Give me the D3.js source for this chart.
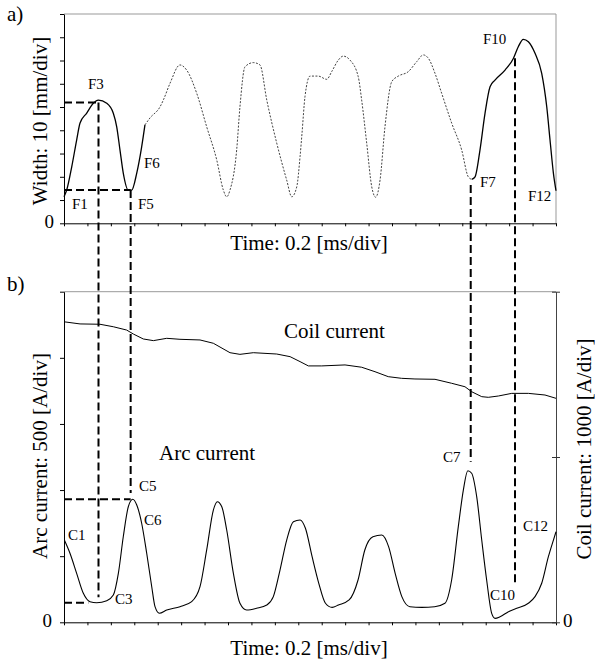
<!DOCTYPE html>
<html>
<head>
<meta charset="utf-8">
<script src="https://cdn.jsdelivr.net/npm/d3@7"></script>
<style>
  body { margin: 0; background: #fff; }
  text { font-family: "Liberation Serif", "Times New Roman", serif; fill: #000; }
</style>
</head>
<body>
<div class="canvas"></div>
<script>
// width trace (panel a), time in ms, width in mm
const widthTime = [0, 0.023, 0.066, 0.108, 0.137, 0.194, 0.250, 0.293, 0.365, 0.421, 0.450, 0.478, 0.506, 0.549, 0.578, 0.621, 0.663, 0.691,
  0.734, 0.820, 0.848, 0.905, 0.990, 1.047, 1.133, 1.218, 1.304, 1.360, 1.389, 1.417, 1.474, 1.502, 1.545, 1.616, 1.673, 1.731, 1.816, 1.901, 1.944, 1.987, 2.015, 2.032,
  2.057, 2.100, 2.171, 2.243, 2.285, 2.342, 2.384, 2.441, 2.512, 2.541, 2.584, 2.627, 2.661, 2.698, 2.740, 2.798, 2.854, 2.939, 3.011, 3.067, 3.110, 3.167, 3.224, 3.310, 3.395, 3.451, 3.480,
  3.509, 3.551, 3.594, 3.637, 3.679, 3.765, 3.836, 3.878, 3.921, 3.964, 4.021, 4.078, 4.121, 4.149, 4.178, 4.2]
const widthValue = [11.4, 14.3, 24.3, 35.8, 43.1, 47.4, 51.6, 53.0, 51.6, 47.3, 41.5, 31.5, 21.6, 14.3, 14.3, 21.6, 32.9, 42.3,
  45.3, 50.1, 53.0, 60.2, 68.1, 65.9, 55.9, 41.5, 27.2, 14.3, 11.4, 14.3, 31.5, 50.1, 67.3, 69.1, 68.1, 53.0, 34.5, 18.6, 11.4, 15.7, 28.6, 38.8,
  54.4, 63.3, 63.3, 61.9, 65.2, 70.2, 71.9, 70.2, 63.0, 53.0, 34.5, 15.7, 11.2, 18.6, 41.5, 60.9, 63.3, 65.2, 69.5, 72.4, 71.0, 64.5, 55.9, 43.0, 31.5, 20.0, 18.9,
  20.0, 31.5, 47.3, 58.7, 61.6, 65.9, 70.9, 75.9, 79.1, 78.1, 73.1, 64.5, 50.1, 35.8, 21.5, 14.0]
const solidEnd = 0.691
const solidStart = 3.480

// arc current (panel b), A
const arcTime = [0.003, 0.051, 0.108, 0.165, 0.222, 0.279, 0.365, 0.421, 0.464, 0.506, 0.549, 0.587, 0.621, 0.663, 0.706, 0.749, 0.777, 0.814,
  0.877, 0.990, 1.090, 1.161, 1.218, 1.275, 1.309, 1.347, 1.389, 1.446, 1.502, 1.559, 1.644, 1.731, 1.787, 1.844, 1.901, 1.958, 2.015,
  2.061, 2.118, 2.175, 2.232, 2.289, 2.343, 2.434, 2.510, 2.568, 2.637, 2.713, 2.771, 2.827, 2.884, 2.953, 3.053, 3.164, 3.252, 3.309, 3.366, 3.409, 3.447, 3.480,
  3.523, 3.566, 3.608, 3.651, 3.680, 3.722, 3.794, 3.865, 3.964, 4.021, 4.078, 4.135, 4.178, 4.2]
const arcValue = [622, 522, 370, 219, 156, 148, 163, 206, 370, 647, 874, 930, 887, 749, 522, 269, 118, 68,
  93, 118, 156, 269, 547, 849, 912, 874, 698, 370, 144, 93, 106, 131, 194, 395, 622, 761, 774,
  711, 496, 295, 144, 113, 131, 169, 320, 547, 647, 660, 572, 370, 194, 118, 113, 118, 144, 320, 723, 1000, 1146, 1127,
  950, 622, 320, 68, 30, 42, 80, 106, 144, 194, 295, 496, 622, 685]

// coil current (panel b), A
const coilTime = [0, 0.137, 0.307, 0.421, 0.535, 0.592, 0.677, 0.763, 0.877, 0.990, 1.161, 1.275, 1.417, 1.502, 1.616, 1.816, 1.930, 2.015,
  2.086, 2.200, 2.399, 2.541, 2.655, 2.768, 2.882, 2.996, 3.167, 3.309, 3.423, 3.480, 3.566, 3.622, 3.708, 3.822, 3.964, 4.106, 4.2]
const coilValue = [1818, 1805, 1803, 1788, 1768, 1744, 1714, 1704, 1718, 1712, 1708, 1688, 1631, 1621, 1631, 1623, 1607, 1577,
  1551, 1551, 1557, 1543, 1516, 1486, 1476, 1472, 1470, 1446, 1425, 1395, 1365, 1361, 1369, 1385, 1385, 1375, 1355]

// dashed guide lines linking the two panels
const guideTime = [0.2945, 0.569, 3.472, 3.850]
const guideTopWidth = [51.9, 14.3, 16.5, 71.0]
const guideBottomArc = [190, 978, 1214, 297]
const topLevelWidth = [51.9, 14.3]
const topLevelEnd = [0.2945, 0.569]
const bottomLevelArc = [930, 148]
const bottomLevelEnd = [0.569, 0.207]

// point labels
const widthLabels = ['F1', 'F3', 'F5', 'F6', 'F7', 'F10', 'F12']
const widthLabelTime = [0.068, 0.205, 0.632, 0.683, 3.551, 3.577, 3.961]
const widthLabelValue = [6.1, 57.7, 6.1, 23.8, 15.6, 77.1, 9.6]
const arcLabels = ['C1', 'C3', 'C5', 'C6', 'C7', 'C10', 'C12']
const arcLabelTime = [0.034, 0.435, 0.640, 0.683, 3.235, 3.637, 3.918]
const arcLabelValue = [622, 138, 993, 736, 1212, 169, 690]

const timeTicks = d3.range(0, 22).map(i => +(i * 0.2).toFixed(1))
const widthTicks = d3.range(0, 91, 10)
const arcTicks = d3.range(0, 2501, 500)
const coilTicks = [0, 1000, 2000]

const W = 595, H = 663
const svg = d3.select('.canvas').append('svg').attr('width', W).attr('height', H)

const x = d3.scaleLinear().domain([0, 4.2]).range([64, 556])
const yTop = d3.scaleLinear().domain([0, 90]).range([223.3, 14])
const yArc = d3.scaleLinear().domain([0, 2500]).range([622.3, 291.7])
const yCoil = d3.scaleLinear().domain([0, 2000]).range([622.3, 291.7])

// frames
svg.append('line').attr('x1', x(0)).attr('x2', x(4.2)).attr('y1', yTop(90)).attr('y2', yTop(90)).attr('stroke', '#999')
svg.append('line').attr('x1', x(4.2)).attr('x2', x(4.2)).attr('y1', yTop(90)).attr('y2', yTop(0)).attr('stroke', '#999')
svg.append('line').attr('x1', x(0)).attr('x2', x(4.2)).attr('y1', yArc(2500)).attr('y2', yArc(2500)).attr('stroke', '#999')

const fmt0 = d => d === 0 ? '0' : ''

const styleAxis = g => {
  g.select('.domain').attr('stroke', '#000')
  g.selectAll('.tick line').attr('stroke', '#000')
  g.selectAll('.tick text').style('font-size', '19px').attr('font-family', null)
}

svg.append('g').attr('transform', `translate(${x(0)},0)`)
  .call(d3.axisLeft(yTop).tickValues(widthTicks).tickSize(4).tickSizeOuter(0).tickFormat(fmt0).tickPadding(6))
  .call(styleAxis)
  .selectAll('.tick text').attr('dy', '0.22em')

svg.append('g').attr('transform', `translate(0,${yTop(0)})`)
  .call(d3.axisBottom(x).tickValues(timeTicks).tickSize(3).tickSizeOuter(0).tickFormat(''))
  .call(styleAxis)

svg.append('g').attr('transform', `translate(${x(0)},0)`)
  .call(d3.axisLeft(yArc).tickValues(arcTicks).tickSize(4).tickSizeOuter(0).tickFormat(fmt0).tickPadding(8))
  .call(styleAxis)
  .selectAll('.tick text').attr('dy', '0.2em')

svg.append('g').attr('transform', `translate(0,${yArc(0)})`)
  .call(d3.axisBottom(x).tickValues(timeTicks).tickSize(3).tickSizeOuter(0).tickFormat(''))
  .call(styleAxis)

const rightAxis = svg.append('g').attr('transform', `translate(${x(4.2)},0)`)
  .call(d3.axisRight(yCoil).tickValues(coilTicks).tickSize(4).tickSizeOuter(0).tickFormat(fmt0).tickPadding(3))
  .call(styleAxis)
rightAxis.select('.domain').attr('stroke', '#444')
rightAxis.selectAll('.tick line').attr('x1', -4).attr('stroke', '#333')
rightAxis.selectAll('.tick text').attr('dy', '0.2em')

// traces
const topLine = d3.line().x(d => x(d.t)).y(d => yTop(d.v)).curve(d3.curveMonotoneX)
const widthPts = widthTime.map((t, i) => ({ t, v: widthValue[i] }))

svg.append('path').datum(widthPts.filter(d => d.t <= solidEnd))
  .attr('d', topLine).attr('fill', 'none').attr('stroke', '#000').attr('stroke-width', 1.3)
svg.append('path').datum(widthPts.filter(d => d.t >= solidEnd && d.t <= solidStart))
  .attr('d', topLine).attr('fill', 'none').attr('stroke', '#444').attr('stroke-width', 1)
  .attr('stroke-dasharray', '2,1.5')
svg.append('path').datum(widthPts.filter(d => d.t >= solidStart))
  .attr('d', topLine).attr('fill', 'none').attr('stroke', '#000').attr('stroke-width', 1.3)

const arcLine = d3.line().x((d, i) => x(arcTime[i])).y(d => yArc(d)).curve(d3.curveMonotoneX)
svg.append('path').datum(arcValue).attr('d', arcLine)
  .attr('fill', 'none').attr('stroke', '#000').attr('stroke-width', 1.1)

const coilLine = d3.line().x((d, i) => x(coilTime[i])).y(d => yCoil(d))
svg.append('path').datum(coilValue).attr('d', coilLine)
  .attr('fill', 'none').attr('stroke', '#000').attr('stroke-width', 1)

// dashed guides
const guides = svg.append('g').attr('stroke', '#000').attr('stroke-width', 2).attr('stroke-dasharray', '8,4')
guideTime.forEach((t, i) => {
  guides.append('line').attr('x1', x(t)).attr('x2', x(t))
    .attr('y1', yTop(guideTopWidth[i])).attr('y2', yArc(guideBottomArc[i]))
})
topLevelWidth.forEach((v, i) => {
  guides.append('line').attr('x1', x(0)).attr('x2', x(topLevelEnd[i]))
    .attr('y1', yTop(v)).attr('y2', yTop(v))
})
bottomLevelArc.forEach((v, i) => {
  guides.append('line').attr('x1', x(0)).attr('x2', x(bottomLevelEnd[i]))
    .attr('y1', yArc(v)).attr('y2', yArc(v))
})

// point labels
widthLabels.forEach((s, i) => {
  svg.append('text').attr('x', x(widthLabelTime[i])).attr('y', yTop(widthLabelValue[i]))
    .style('font-size', '15px').text(s)
})
arcLabels.forEach((s, i) => {
  svg.append('text').attr('x', x(arcLabelTime[i])).attr('y', yArc(arcLabelValue[i]))
    .style('font-size', '15px').text(s)
})

// titles
svg.append('text').attr('x', 7).attr('y', 21).style('font-size', '21px').text('a)')
svg.append('text').attr('x', 7).attr('y', 291).style('font-size', '21px').text('b)')
svg.append('text').attr('x', 309).attr('y', 250).attr('text-anchor', 'middle').style('font-size', '21px').text('Time: 0.2 [ms/div]')
svg.append('text').attr('x', 309).attr('y', 655).attr('text-anchor', 'middle').style('font-size', '21px').text('Time: 0.2 [ms/div]')
svg.append('text').attr('transform', 'translate(47,121) rotate(-90)').attr('text-anchor', 'middle')
  .style('font-size', '21px').text('Width: 10 [mm/div]')
svg.append('text').attr('transform', 'translate(47,456) rotate(-90)').attr('text-anchor', 'middle')
  .style('font-size', '21px').text('Arc current: 500 [A/div]')
svg.append('text').attr('transform', 'translate(591,449) rotate(-90)').attr('text-anchor', 'middle')
  .style('font-size', '21px').text('Coil current: 1000 [A/div]')
svg.append('text').attr('x', 284).attr('y', 338).style('font-size', '21px').text('Coil current')
svg.append('text').attr('x', 159).attr('y', 460).style('font-size', '21px').text('Arc current')
</script>
</body>
</html>
